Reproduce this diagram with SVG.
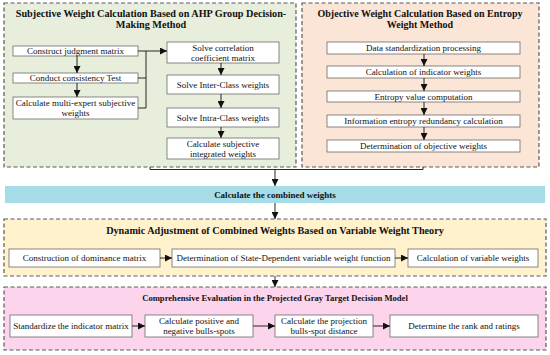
<svg xmlns="http://www.w3.org/2000/svg" width="550" height="355" viewBox="0 0 550 355">
<defs>
<style>
.panel{stroke:#5a5a5a;stroke-width:1.2;stroke-dasharray:4,2.5}
.box{fill:#fff;stroke:#6a6a6a;stroke-width:0.8}
.t{font-family:"Liberation Serif","Times New Roman",serif;font-size:9px;fill:#111;text-anchor:middle}
.h{font-family:"Liberation Serif","Times New Roman",serif;font-weight:bold;fill:#111;text-anchor:middle}
.c{fill:none;stroke:#111;stroke-width:0.9}
</style>
<marker id="ah" viewBox="0 0 10 10" refX="10" refY="5" markerWidth="7" markerHeight="7" markerUnits="userSpaceOnUse" orient="auto">
<path d="M0,0 L10,5 L0,10 z" fill="#111"/>
</marker>
</defs>
<rect width="550" height="355" fill="#fff"/>

<g id="panel-subjective">
<rect class="panel" x="4" y="3" width="292" height="164" fill="#e8eedc"/>
<text class="h" x="151" y="17" font-size="10.2">Subjective Weight Calculation Based on AHP Group Decision-</text>
<text class="h" x="151" y="28" font-size="10.2">Making Method</text>
</g>
<g id="panel-objective">
<rect class="panel" x="302" y="3" width="237" height="164" fill="#fbe5d6"/>
<text class="h" x="420" y="17" font-size="10">Objective Weight Calculation Based on Entropy</text>
<text class="h" x="420" y="28" font-size="10">Weight Method</text>
</g>

<g id="n-construct"><rect class="box" x="13" y="46" width="125" height="10"/><text class="t" x="75.5" y="54">Construct judgment matrix</text></g>
<g id="n-consistency"><rect class="box" x="13" y="73" width="125" height="10"/><text class="t" x="75.5" y="81">Conduct consistency Test</text></g>
<g id="n-multiexpert"><rect class="box" x="13" y="97" width="125" height="22"/><text class="t" x="75.5" y="106">Calculate multi-expert subjective</text><text class="t" x="75.5" y="116">weights</text></g>
<g id="n-correlation"><rect class="box" x="167" y="42" width="112" height="21"/><text class="t" x="223" y="51">Solve correlation</text><text class="t" x="223" y="61">coefficient matrix</text></g>
<g id="n-inter"><rect class="box" x="167" y="75" width="112" height="19"/><text class="t" x="223" y="87.5">Solve Inter-Class weights</text></g>
<g id="n-intra"><rect class="box" x="167" y="108" width="112" height="19"/><text class="t" x="223" y="120.5">Solve Intra-Class weights</text></g>
<g id="n-integrated"><rect class="box" x="167" y="138" width="112" height="21"/><text class="t" x="223" y="147">Calculate subjective</text><text class="t" x="223" y="157">integrated weights</text></g>

<g id="n-standardization"><rect class="box" x="327" y="42" width="193" height="12"/><text class="t" x="423.5" y="51">Data standardization processing</text></g>
<g id="n-indicator"><rect class="box" x="327" y="66" width="193" height="12"/><text class="t" x="423.5" y="75">Calculation of indicator weights</text></g>
<g id="n-entropy"><rect class="box" x="327" y="91" width="193" height="11"/><text class="t" x="423.5" y="99.5">Entropy value computation</text></g>
<g id="n-redundancy"><rect class="box" x="327" y="115" width="193" height="12"/><text class="t" x="423.5" y="124">Information entropy redundancy calculation</text></g>
<g id="n-objective"><rect class="box" x="327" y="140" width="193" height="12"/><text class="t" x="423.5" y="149">Determination of objective weights</text></g>

<g id="n-combined">
<rect x="5" y="186" width="540" height="17" fill="#a6dbe8"/>
<text class="h" x="275" y="198" font-size="9">Calculate the combined weights</text>
</g>

<g id="panel-dynamic">
<rect class="panel" x="4" y="219" width="542" height="57" fill="#fff2cc"/>
<text class="h" x="275" y="234" font-size="10.2">Dynamic Adjustment of Combined Weights Based on Variable Weight Theory</text>
</g>
<g id="n-dominance"><rect class="box" x="9" y="249" width="151" height="18"/><text class="t" x="84.5" y="261">Construction of dominance matrix</text></g>
<g id="n-statedependent"><rect class="box" x="172" y="249" width="223" height="18"/><text class="t" x="283.5" y="261">Determination of State-Dependent variable weight function</text></g>
<g id="n-variable"><rect class="box" x="408" y="249" width="130" height="18"/><text class="t" x="473" y="261">Calculation of variable weights</text></g>

<g id="panel-evaluation">
<rect class="panel" x="4" y="287" width="542" height="63" fill="#fcd5ec"/>
<text class="h" x="275" y="301" font-size="8.6">Comprehensive Evaluation in the Projected Gray Target Decision Model</text>
</g>
<g id="n-standardize"><rect class="box" x="10" y="315" width="122" height="22"/><text class="t" x="71" y="329">Standardize the indicator matrix</text></g>
<g id="n-bullsspots"><rect class="box" x="145" y="315" width="108" height="22"/><text class="t" x="199" y="324">Calculate positive and</text><text class="t" x="199" y="334">negative bulls-spots</text></g>
<g id="n-projection"><rect class="box" x="275" y="315" width="98" height="22"/><text class="t" x="324" y="324">Calculate the projection</text><text class="t" x="324" y="334">bulls-spot distance</text></g>
<g id="n-rank"><rect class="box" x="390" y="315" width="148" height="22"/><text class="t" x="464" y="329">Determine the rank and ratings</text></g>

<g id="connectors">
<path class="c" d="M77,56 V73" marker-end="url(#ah)"/>
<path class="c" d="M77,83 V97" marker-end="url(#ah)"/>
<path class="c" d="M138,51 H146 M138,78 H146 M138,108 H146 M146,51 V108"/>
<path class="c" d="M146,51 H167" marker-end="url(#ah)"/>
<path class="c" d="M221,63 V75" marker-end="url(#ah)"/>
<path class="c" d="M221,94 V108" marker-end="url(#ah)"/>
<path class="c" d="M221,127 V138" marker-end="url(#ah)"/>
<path class="c" d="M424,54 V66" marker-end="url(#ah)"/>
<path class="c" d="M424,78 V91" marker-end="url(#ah)"/>
<path class="c" d="M424,102 V115" marker-end="url(#ah)"/>
<path class="c" d="M424,127 V140" marker-end="url(#ah)"/>
<path class="c" d="M150,167 V169.5 H423 V167"/>
<path class="c" d="M275,169.5 V186" marker-end="url(#ah)"/>
<path class="c" d="M275,203 V219" marker-end="url(#ah)"/>
<path class="c" d="M160,258 H172" marker-end="url(#ah)"/>
<path class="c" d="M395,258 H408" marker-end="url(#ah)"/>
<path class="c" d="M275,276 V287" marker-end="url(#ah)"/>
<path class="c" d="M132,326 H145" marker-end="url(#ah)"/>
<path class="c" d="M253,326 H275" marker-end="url(#ah)"/>
<path class="c" d="M373,326 H390" marker-end="url(#ah)"/>
</g>
</svg>
